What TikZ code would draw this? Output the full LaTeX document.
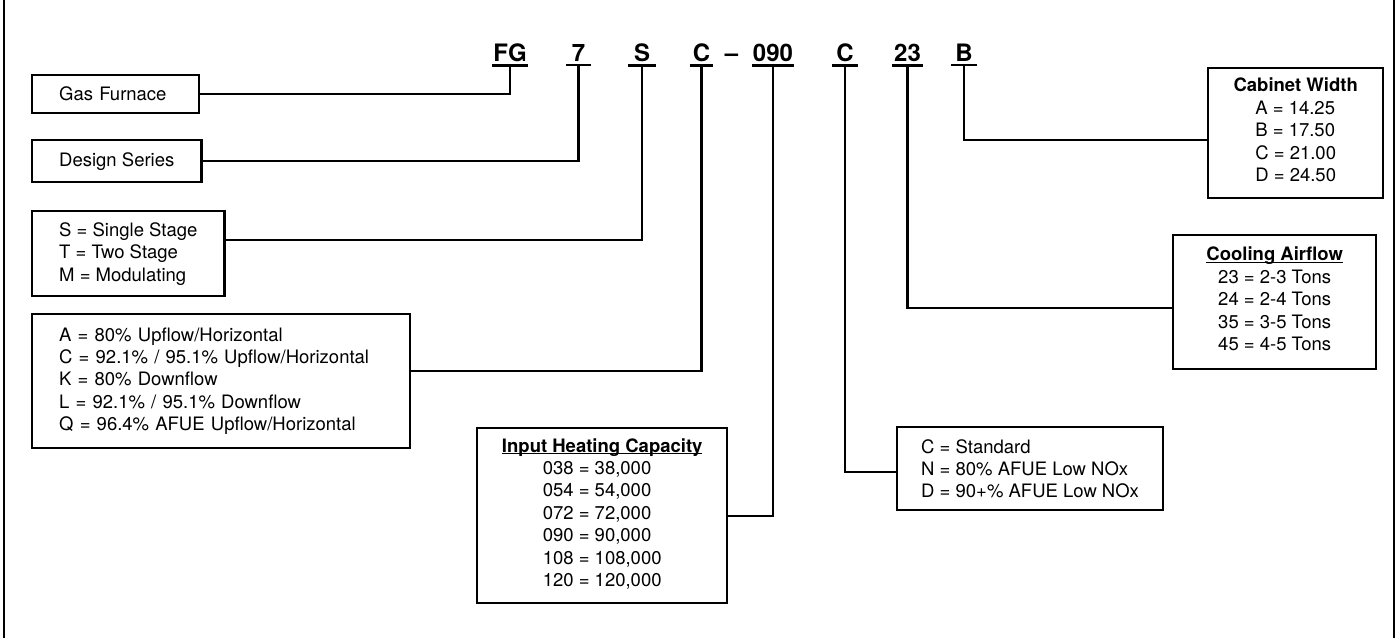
\documentclass[tikz,border=0pt]{standalone}
\usepackage{fontspec}
\setmainfont{TeX Gyre Heros}
\newcommand{\ulbox}[1]{\underline{\raisebox{0pt}[\height][0pt]{#1}}}

\begin{document}
\begin{tikzpicture}[x=1pt,y=-1pt,
		every node/.style={font=\fontsize{18.5}{22.4}\selectfont},
		code/.style={font=\bfseries\fontsize{24}{24}\selectfont,anchor=base,inner xsep=0pt,inner ysep=4pt},
		box/.style={draw,line width=2.4pt,anchor=north west,align=left,inner xsep=27pt,inner ysep=0pt},
		link/.style={line width=2.4pt}]

		\useasboundingbox (0,0) rectangle (1397,638);
		\draw[link] (4,0) -- (4,638);
		\draw[link] (1394,0) -- (1394,638);

		% model number
		\node[code,minimum width=35pt] (fg) at (510,61) {FG};
		\node[code,minimum width=25pt] (ser) at (578.5,61) {7};
		\node[code,minimum width=28pt] (stg) at (642,61) {S};
		\node[code,minimum width=23pt] (cfg) at (701.5,61) {C};
		\node[code] (dash) at (731.5,61) {--};
		\node[code,minimum width=42pt] (btu) at (773,61) {090};
		\node[code,minimum width=26pt] (nox) at (845,61) {C};
		\node[code,minimum width=31pt] (ton) at (907.5,61) {23};
		\node[code,minimum width=26pt] (wid) at (964,61) {B};
		\foreach \c in {fg,ser,stg,cfg,btu,nox,ton,wid}
			\draw[link] (\c.south west) -- (\c.south east);

		% boxes
		\node[box,text width=113pt,minimum height=38pt] (furnace) at (31,74) {Gas Furnace};
		\node[box,minimum height=42pt] (series) at (31,139) {Design Series};
		\node[box,minimum height=85pt] (staging) at (31,210)
			{S = Single Stage\\T = Two Stage\\M = Modulating};
		\node[box,text width=324pt,minimum height=134pt] (config) at (31,313)
			{A = 80\% Upflow/Horizontal\\C = 92.1\% / 95.1\% Upflow/Horizontal\\K = 80\% Downflow\\L = 92.1\% / 95.1\% Downflow\\Q = 96.4\% AFUE Upflow/Horizontal};
		\node[box,align=center,inner xsep=0pt,minimum width=250pt,minimum height=175pt] (heating) at (476,427)
			{\ulbox{\textbf{Input Heating Capacity}}\\
			\begin{tabular}[t]{@{}l@{}}038 = 38,000\\054 = 54,000\\072 = 72,000\\090 = 90,000\\108 = 108,000\\120 = 120,000\end{tabular}};
		\node[box,inner xsep=24pt,minimum height=83pt] (lownox) at (896,426)
			{C = Standard\\N = 80\% AFUE Low NOx\\D = 90+\% AFUE Low NOx};
		\node[box,align=center,inner xsep=0pt,minimum width=203pt,minimum height=134pt] (cooling) at (1172,234)
			{\ulbox{\textbf{Cooling Airflow}}\\
			\begin{tabular}[t]{@{}l@{}}23 = 2-3 Tons\\24 = 2-4 Tons\\35 = 3-5 Tons\\45 = 4-5 Tons\end{tabular}};
		\node[box,align=center,inner xsep=0pt,minimum width=175pt,minimum height=130pt] (cabinet) at (1207,67)
			{\textbf{Cabinet Width}\\
			\begin{tabular}[t]{@{}l@{}}A = 14.25\\B = 17.50\\C = 21.00\\D = 24.50\end{tabular}};

		% leaders
		\draw[link] (fg.south) |- (furnace.east);
		\draw[link] (ser.south) |- (series.east);
		\draw[link] (stg.south) |- ([yshift=13.5pt]staging.east);
		\draw[link] (cfg.south) |- ([yshift=10pt]config.east);
		\draw[link] (btu.south) |- (heating.east);
		\draw[link] (nox.south) |- ([yshift=-3.5pt]lownox.west);
		\draw[link] (ton.south) |- ([yshift=-6pt]cooling.west);
		\draw[link] (wid.south) |- ([yshift=-7pt]cabinet.west);

\end{tikzpicture}
\end{document}
